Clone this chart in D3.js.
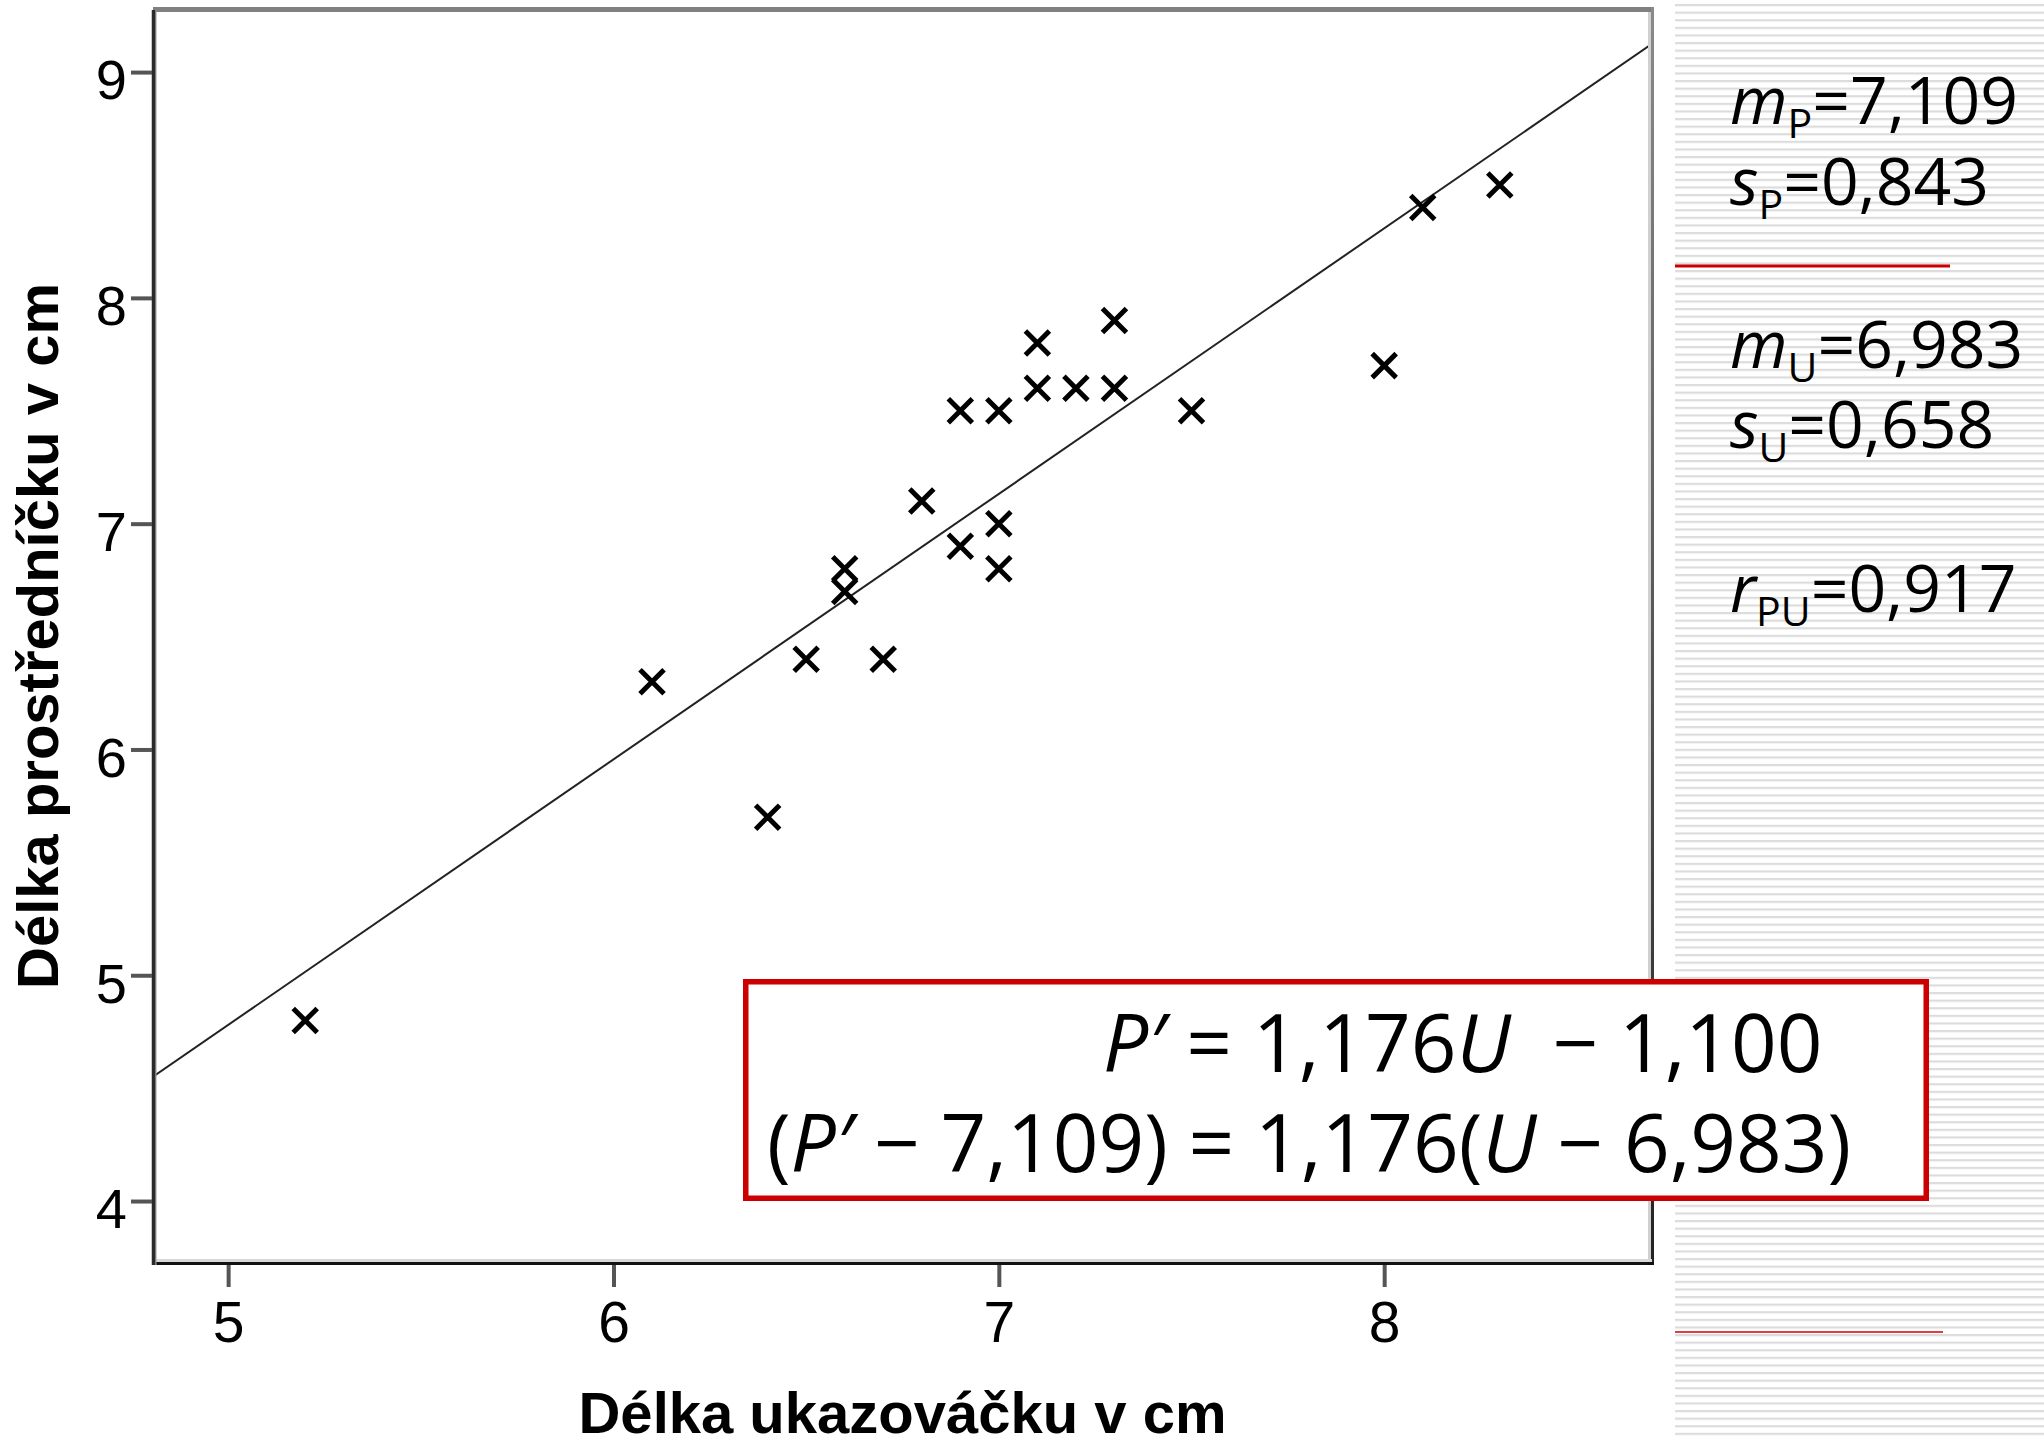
<!DOCTYPE html>
<html>
<head>
<meta charset="utf-8">
<script src="https://cdn.jsdelivr.net/npm/d3@7/dist/d3.min.js"></script>
<style>
  html, body { margin: 0; padding: 0; background: #fff; }
  svg { display: block; }
</style>
</head>
<body>
<svg id="chart" width="2044" height="1440"></svg>
<script>
// Index finger length (U) and middle finger length (P), in cm
const indexLength  = [5.2, 6.1, 6.4, 6.5, 6.6, 6.6, 6.7, 6.8, 6.9, 6.9, 7.0, 7.0, 7.0, 7.1, 7.1, 7.2, 7.3, 7.3, 7.5, 8.0, 8.1, 8.3];
const middleLength = [4.8, 6.3, 5.7, 6.4, 6.8, 6.7, 6.4, 7.1, 7.5, 6.9, 7.5, 7.0, 6.8, 7.8, 7.6, 7.6, 7.9, 7.6, 7.5, 7.7, 8.4, 8.5];

const xTickValues = [5, 6, 7, 8];
const yTickValues = [4, 5, 6, 7, 8, 9];

const xTitle = "Délka ukazováčku v cm";
const yTitle = "Délka prostředníčku v cm";

// Summary statistics shown beside the plot
const statSymbols    = ["m", "s", "m", "s", "r"];
const statSubscripts = ["P", "P", "U", "U", "PU"];
const statValues     = [7.109, 0.843, 6.983, 0.658, 0.917];

// Least-squares line P' = slope*U + intercept
const slope = 1.176;
const intercept = -1.100;
const meanP = 7.109;
const meanU = 6.983;

const fmt = v => d3.format(".3f")(v).replace(".", ",");

const svg = d3.select("#chart");

// ---- striped side panel ----
const defs = svg.append("defs");
const pat = defs.append("pattern")
  .attr("id", "stripes").attr("patternUnits", "userSpaceOnUse")
  .attr("x", 0).attr("y", 4).attr("width", 20).attr("height", 7.6);
pat.append("rect").attr("x", 0).attr("y", 0).attr("width", 20).attr("height", 2.2).attr("fill", "#dcdcdc");

svg.append("rect").attr("x", 1675).attr("y", 4).attr("width", 369).attr("height", 1436).attr("fill", "url(#stripes)");

const rg = defs.append("linearGradient").attr("id", "rightEdge").attr("x1", 0).attr("y1", 0).attr("x2", 0).attr("y2", 1);
rg.append("stop").attr("offset", "0%").attr("stop-color", "#8a8a8a");
rg.append("stop").attr("offset", "100%").attr("stop-color", "#222");

// ---- scales ----
const plotL = 153, plotR = 1652, plotT = 10, plotB = 1262;
const x = d3.scaleLinear().domain([4.805, 8.695]).range([plotL, plotR]);
const y = d3.scaleLinear().domain([3.73, 9.275]).range([plotB, plotT]);

// plot area
svg.append("rect").attr("x", plotL).attr("y", plotT).attr("width", plotR - plotL).attr("height", plotB - plotT).attr("fill", "#fff");

// ---- regression line ----
const clip = defs.append("clipPath").attr("id", "plotClip");
clip.append("rect").attr("x", plotL).attr("y", plotT).attr("width", plotR - plotL).attr("height", plotB - plotT);
const [u0, u1] = x.domain();
svg.append("line")
  .attr("clip-path", "url(#plotClip)")
  .attr("x1", x(u0)).attr("y1", y(slope * u0 + intercept))
  .attr("x2", x(u1)).attr("y2", y(slope * u1 + intercept))
  .attr("stroke", "#222").attr("stroke-width", 2);

// ---- points (x markers) ----
const pts = indexLength.map((u, i) => ({ u, p: middleLength[i] }));
const arm = 12;
svg.append("g").selectAll("path").data(pts).join("path")
  .attr("d", d => {
    const cx = x(d.u), cy = y(d.p);
    return `M${cx - arm},${cy - arm}L${cx + arm},${cy + arm}M${cx - arm},${cy + arm}L${cx + arm},${cy - arm}`;
  })
  .attr("stroke", "#000").attr("stroke-width", 5).attr("fill", "none");

// ---- frame ----
svg.append("line").attr("x1", plotL).attr("x2", plotR + 2).attr("y1", 9.5).attr("y2", 9.5).attr("stroke", "#808080").attr("stroke-width", 5);
svg.append("line").attr("x1", 1649.5).attr("x2", 1649.5).attr("y1", 12).attr("y2", plotB).attr("stroke", "#d0d0d0").attr("stroke-width", 3);
svg.append("rect").attr("x", 1651).attr("y", 7).attr("width", 3).attr("height", plotB + 3 - 7).attr("fill", "url(#rightEdge)");
svg.append("line").attr("x1", plotL + 3).attr("x2", plotR).attr("y1", 1260.5).attr("y2", 1260.5).attr("stroke", "#d8d8d8").attr("stroke-width", 3);
svg.append("line").attr("x1", plotL).attr("x2", 1654).attr("y1", 1263.5).attr("y2", 1263.5).attr("stroke", "#111").attr("stroke-width", 3);
svg.append("line").attr("x1", 155.5).attr("x2", 155.5).attr("y1", 10).attr("y2", 1265).attr("stroke", "#999").attr("stroke-width", 2);
svg.append("line").attr("x1", 153.5).attr("x2", 153.5).attr("y1", 10).attr("y2", 1265).attr("stroke", "#2a2a2a").attr("stroke-width", 3.5);

// ---- axes ----
const yAxis = d3.axisLeft(y).tickValues(yTickValues).tickSize(21).tickPadding(4).tickFormat(d3.format("d"));
const gy = svg.append("g").attr("transform", `translate(${plotL - 1},0)`).call(yAxis);
gy.select(".domain").remove();
gy.selectAll(".tick line").attr("stroke", "#555").attr("stroke-width", 4);
gy.selectAll(".tick text").attr("font-family", "'Liberation Sans', Arial, sans-serif").attr("font-size", 56).attr("fill", "#000").attr("dy", "0.48em");

const xAxis = d3.axisBottom(x).tickValues(xTickValues).tickSize(22).tickPadding(15).tickFormat(d3.format("d"));
const gx = svg.append("g").attr("transform", `translate(0,${plotB + 3})`).call(xAxis);
gx.select(".domain").remove();
gx.selectAll(".tick line").attr("stroke", "#555").attr("stroke-width", 4);
gx.selectAll(".tick text").attr("font-family", "'Liberation Sans', Arial, sans-serif").attr("font-size", 57).attr("fill", "#000");

// ---- axis titles ----
svg.append("text")
  .attr("x", (plotL + plotR) / 2).attr("y", 1433)
  .attr("text-anchor", "middle")
  .attr("font-family", "'Liberation Sans', Arial, sans-serif").attr("font-weight", "bold").attr("font-size", 58)
  .text(xTitle);

svg.append("text")
  .attr("transform", `translate(58,${(plotT + plotB) / 2}) rotate(-90)`)
  .attr("text-anchor", "middle")
  .attr("font-family", "'Liberation Sans', Arial, sans-serif").attr("font-weight", "bold").attr("font-size", 58)
  .text(yTitle);

// ---- statistics panel ----
const statFont = "'Open Sans', 'Noto Sans', sans-serif";
const statBaselines = [124, 205, 368, 448, 612];
statSymbols.forEach((sym, i) => {
  const t = svg.append("text")
    .attr("x", 1730).attr("y", statBaselines[i])
    .attr("font-family", statFont).attr("font-size", 66).attr("fill", "#000");
  t.append("tspan").attr("font-style", "italic").text(sym);
  t.append("tspan").attr("font-size", 41).attr("dy", 14).text(statSubscripts[i]);
  t.append("tspan").attr("dy", -14).text("=" + fmt(statValues[i]));
});

svg.append("line").attr("x1", 1675).attr("x2", 1950).attr("y1", 266).attr("y2", 266).attr("stroke", "#cc0000").attr("stroke-width", 3);
svg.append("line").attr("x1", 1675).attr("x2", 1943).attr("y1", 1332).attr("y2", 1332).attr("stroke", "#cc0000").attr("stroke-width", 1.5);

// ---- equation box ----
svg.append("rect")
  .attr("x", 745.75).attr("y", 981.75).attr("width", 1180.5).attr("height", 216.5)
  .attr("fill", "#fff").attr("stroke", "#cc0000").attr("stroke-width", 5.5);

const eqFont = 80;
const eq1 = svg.append("text").attr("x", 1103).attr("y", 1072)
  .attr("font-family", statFont).attr("font-size", eqFont).attr("fill", "#000")
  .attr("xml:space", "preserve");
eq1.append("tspan").attr("font-style", "italic").text("P′");
eq1.append("tspan").text(" = " + fmt(slope));
eq1.append("tspan").attr("font-style", "italic").text("U");
eq1.append("tspan").text("  − " + fmt(Math.abs(intercept)));

const eq2 = svg.append("text").attr("x", 767).attr("y", 1172)
  .attr("font-family", statFont).attr("font-size", eqFont).attr("fill", "#000")
  .attr("xml:space", "preserve");
eq2.append("tspan").text("(");
eq2.append("tspan").attr("font-style", "italic").text("P′");
eq2.append("tspan").text(" − " + fmt(meanP) + ") = " + fmt(slope) + "(");
eq2.append("tspan").attr("font-style", "italic").text("U");
eq2.append("tspan").text(" − " + fmt(meanU) + ")");
</script>
</body>
</html>
